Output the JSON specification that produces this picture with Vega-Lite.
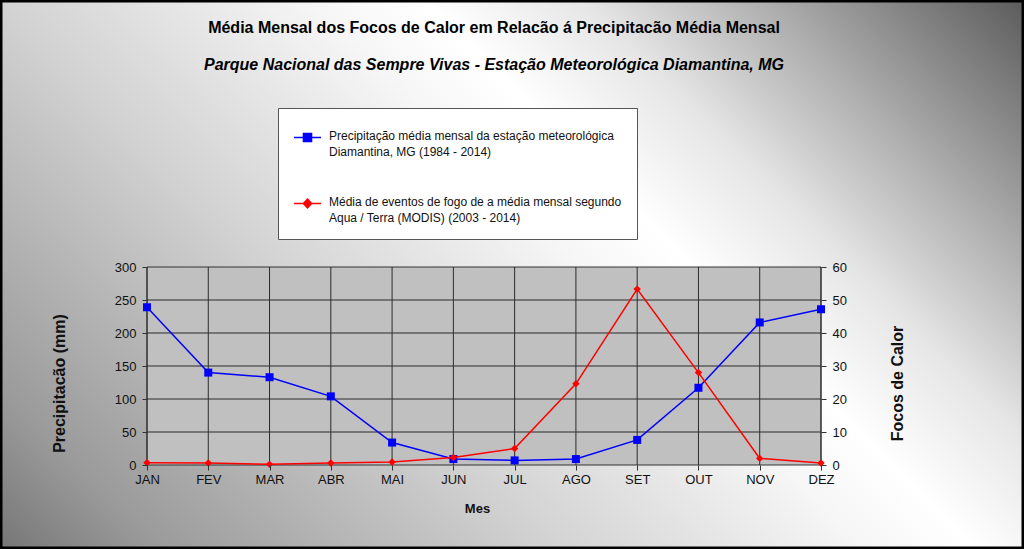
{
  "$schema": "https://vega.github.io/schema/vega-lite/v6.json",
  "width": 1024,
  "height": 549,
  "autosize": {"type": "none"},
  "padding": 0,
  "background": "#d0d0d0",
  "config": {"view": {"stroke": null}, "font": "Liberation Sans"},
  "title": {
    "text": "Média Mensal dos Focos de Calor em Relacão á Precipitacão Média Mensal",
    "subtitle": "Parque Nacional das Sempre Vivas - Estação Meteorológica Diamantina,  MG",
    "anchor": "middle",
    "frame": "group",
    "offset": -75,
    "dx": -18,
    "font": "Liberation Sans Narrow, Liberation Sans",
    "fontSize": 16,
    "fontWeight": "bold",
    "color": "#000000",
    "subtitleFont": "Liberation Sans Narrow, Liberation Sans",
    "subtitleFontSize": 16,
    "subtitleFontStyle": "italic",
    "subtitleFontWeight": "bold",
    "subtitleColor": "#000000",
    "subtitlePadding": 21
  },
  "data": {
    "values": [
      {"mes": "JAN", "precip": 239, "focos": 0.7},
      {"mes": "FEV", "precip": 140, "focos": 0.6},
      {"mes": "MAR", "precip": 133, "focos": 0.2},
      {"mes": "ABR", "precip": 104, "focos": 0.6},
      {"mes": "MAI", "precip": 34, "focos": 0.9},
      {"mes": "JUN", "precip": 9, "focos": 2.3},
      {"mes": "JUL", "precip": 7, "focos": 5},
      {"mes": "AGO", "precip": 9, "focos": 24.6},
      {"mes": "SET", "precip": 38, "focos": 53.3},
      {"mes": "OUT", "precip": 117, "focos": 28},
      {"mes": "NOV", "precip": 216, "focos": 2},
      {"mes": "DEZ", "precip": 236, "focos": 0.6}
    ]
  },
  "layer": [
    {
      "layer": [
        {
          "data": {"values": [{}]},
          "mark": {
            "type": "rect",
            "fill": {
              "gradient": "linear",
              "x1": 0, "y1": 1, "x2": 1.19, "y2": 0.357,
              "stops": [
                {"offset": 0, "color": "#767676"},
                {"offset": 0.1, "color": "#9a9a9a"},
                {"offset": 0.35, "color": "#d2d2d2"},
                {"offset": 0.55, "color": "#f6f6f6"},
                {"offset": 0.62, "color": "#ffffff"},
                {"offset": 0.72, "color": "#e6e6e6"},
                {"offset": 0.84, "color": "#acacac"},
                {"offset": 1, "color": "#5c5c5c"}
              ]
            },
            "stroke": "#000000",
            "strokeWidth": 5
          },
          "encoding": {}
        },
        {
          "data": {"values": [{}]},
          "mark": {"type": "rect", "fill": "#c0c0c0", "stroke": "#333333", "strokeWidth": 1},
          "encoding": {
            "x": {"datum": "JAN", "type": "ordinal",
                  "scale": {"type": "point", "domain": ["JAN","FEV","MAR","ABR","MAI","JUN","JUL","AGO","SET","OUT","NOV","DEZ"], "range": [147, 821], "padding": 0}},
            "x2": {"datum": "DEZ"},
            "y": {"datum": 0, "type": "quantitative",
                  "scale": {"domain": [-127.27, 704.55], "nice": false, "zero": false}},
            "y2": {"datum": 300}
          }
        },
        {
          "mark": {"type": "rule", "color": "#2b2b2b", "strokeWidth": 1},
          "encoding": {
            "x": {"field": "mes", "type": "ordinal",
                  "scale": {"type": "point", "domain": ["JAN","FEV","MAR","ABR","MAI","JUN","JUL","AGO","SET","OUT","NOV","DEZ"], "range": [147, 821], "padding": 0}},
            "y": {"datum": 0, "type": "quantitative",
                  "scale": {"domain": [-127.27, 704.55], "nice": false, "zero": false}},
            "y2": {"datum": 300}
          }
        },
        {
          "data": {"values": [{"v": 50}, {"v": 100}, {"v": 150}, {"v": 200}, {"v": 250}]},
          "mark": {"type": "rule", "color": "#2b2b2b", "strokeWidth": 1},
          "encoding": {
            "x": {"datum": "JAN", "type": "ordinal",
                  "scale": {"type": "point", "domain": ["JAN","FEV","MAR","ABR","MAI","JUN","JUL","AGO","SET","OUT","NOV","DEZ"], "range": [147, 821], "padding": 0}},
            "x2": {"datum": "DEZ"},
            "y": {"field": "v", "type": "quantitative",
                  "scale": {"domain": [-127.27, 704.55], "nice": false, "zero": false}}
          }
        },
        {
          "mark": {"type": "line", "strokeWidth": 1.5},
          "encoding": {
            "x": {"field": "mes", "type": "ordinal",
                  "scale": {"type": "point", "domain": ["JAN","FEV","MAR","ABR","MAI","JUN","JUL","AGO","SET","OUT","NOV","DEZ"], "range": [147, 821], "padding": 0},
                  "axis": {"orient": "bottom", "offset": -84, "zindex": 1, "domain": false, "grid": false,
                           "labelAngle": 0, "labelAlign": "center", "labelBaseline": "top",
                           "tickSize": 5, "tickColor": "#333333", "labelPadding": 3, "labelFontSize": 13,
                           "labelColor": "#111111", "labelFont": "Liberation Sans",
                           "title": "Mes", "titleFontSize": 13, "titleFontWeight": "bold", "titleColor": "#111111",
                           "titleX": 477, "titleY": 43, "titleBaseline": "middle", "titleAlign": "center"}},
            "y": {"field": "precip", "type": "quantitative",
                  "scale": {"domain": [-127.27, 704.55], "nice": false, "zero": false},
                  "axis": {"orient": "left", "offset": -147, "zindex": 1, "values": [0, 50, 100, 150, 200, 250, 300],
                           "domain": false, "grid": false, "tickSize": 5, "tickColor": "#333333",
                           "labelPadding": 6, "labelFontSize": 13, "labelColor": "#111111",
                           "title": "Precipitacão (mm)", "titleFontSize": 16, "titleFontWeight": "bold",
                           "titleColor": "#111111", "titleAngle": -90, "titleX": -88, "titleY": 383,
                           "titleBaseline": "middle", "titleAlign": "center"}},
            "color": {"datum": "Precipitação média mensal da estação meteorológica Diamantina, MG (1984 - 2014)", "type": "nominal",
                      "scale": {"domain": ["Precipitação média mensal da estação meteorológica Diamantina, MG (1984 - 2014)", "Média de eventos de fogo de a média mensal segundo Aqua / Terra (MODIS) (2003 - 2014)"], "range": ["#0000ff", "#ff0000"]},
                      "legend": {
                        "orient": "none", "legendX": 278, "legendY": 108, "title": null,
                        "fillColor": "#ffffff", "strokeColor": "#555555", "padding": 15,
                        "rowPadding": 31, "symbolSize": 729, "labelOffset": 7, "labelLimit": 0,
                        "labelFontSize": 12, "labelColor": "#111111", "labelBaseline": "top",
                        "labelExpr": "indexof(datum.label, 'Precip') == 0 ? ['Precipitação média mensal da estação meteorológica', 'Diamantina, MG (1984 - 2014)'] : ['Média de eventos de fogo de a média mensal segundo', 'Aqua / Terra (MODIS) (2003 - 2014)']",
                        "encode": {
                          "symbols": {"update": {
                            "shape": {"signal": "indexof(datum.value, 'Precip') == 0 ? 'M-1,0H1M-0.3,-0.3H0.3V0.3H-0.3Z' : 'M-1,0H1M0,-0.33L0.3,0L0,0.33L-0.3,0Z'"},
                            "size": {"value": 729},
                            "strokeWidth": {"value": 1.5},
                            "stroke": {"signal": "indexof(datum.value, 'Precip') == 0 ? '#0000ff' : '#ff0000'"},
                            "fill": {"signal": "indexof(datum.value, 'Precip') == 0 ? '#0000ff' : '#ff0000'"},
                            "opacity": {"value": 1}
                          }},
                          "labels": {"update": {"dy": {"value": -7}, "lineHeight": {"value": 16}}}
                        }
                      }}
          }
        },
        {
          "mark": {"type": "point", "shape": "square", "filled": true, "size": 64, "opacity": 1},
          "encoding": {
            "x": {"field": "mes", "type": "ordinal",
                  "scale": {"type": "point", "domain": ["JAN","FEV","MAR","ABR","MAI","JUN","JUL","AGO","SET","OUT","NOV","DEZ"], "range": [147, 821], "padding": 0}},
            "y": {"field": "precip", "type": "quantitative",
                  "scale": {"domain": [-127.27, 704.55], "nice": false, "zero": false}},
            "color": {"datum": "Precipitação média mensal da estação meteorológica Diamantina, MG (1984 - 2014)", "type": "nominal"}
          }
        }
      ]
    },
    {
      "layer": [
        {
          "mark": {"type": "line", "strokeWidth": 1.5},
          "encoding": {
            "x": {"field": "mes", "type": "ordinal",
                  "scale": {"type": "point", "domain": ["JAN","FEV","MAR","ABR","MAI","JUN","JUL","AGO","SET","OUT","NOV","DEZ"], "range": [147, 821], "padding": 0}},
            "y": {"field": "focos", "type": "quantitative",
                  "scale": {"domain": [-25.45, 140.91], "nice": false, "zero": false},
                  "axis": {"orient": "right", "offset": -203, "zindex": 1, "values": [0, 10, 20, 30, 40, 50, 60],
                           "domain": false, "grid": false, "tickSize": 5, "tickColor": "#333333",
                           "labelPadding": 6, "labelFontSize": 13, "labelColor": "#111111",
                           "title": "Focos de Calor", "titleFontSize": 16, "titleFontWeight": "bold",
                           "titleColor": "#111111", "titleAngle": -90, "titleX": 76, "titleY": 383,
                           "titleBaseline": "middle", "titleAlign": "center"}},
            "color": {"datum": "Média de eventos de fogo de a média mensal segundo Aqua / Terra (MODIS) (2003 - 2014)", "type": "nominal"}
          }
        },
        {
          "mark": {"type": "point", "shape": "diamond", "filled": true, "size": 55, "opacity": 1},
          "encoding": {
            "x": {"field": "mes", "type": "ordinal",
                  "scale": {"type": "point", "domain": ["JAN","FEV","MAR","ABR","MAI","JUN","JUL","AGO","SET","OUT","NOV","DEZ"], "range": [147, 821], "padding": 0}},
            "y": {"field": "focos", "type": "quantitative",
                  "scale": {"domain": [-25.45, 140.91], "nice": false, "zero": false}},
            "color": {"datum": "Média de eventos de fogo de a média mensal segundo Aqua / Terra (MODIS) (2003 - 2014)", "type": "nominal"}
          }
        }
      ]
    }
  ],
  "resolve": {"scale": {"y": "independent"}, "axis": {"y": "independent"}}
}
